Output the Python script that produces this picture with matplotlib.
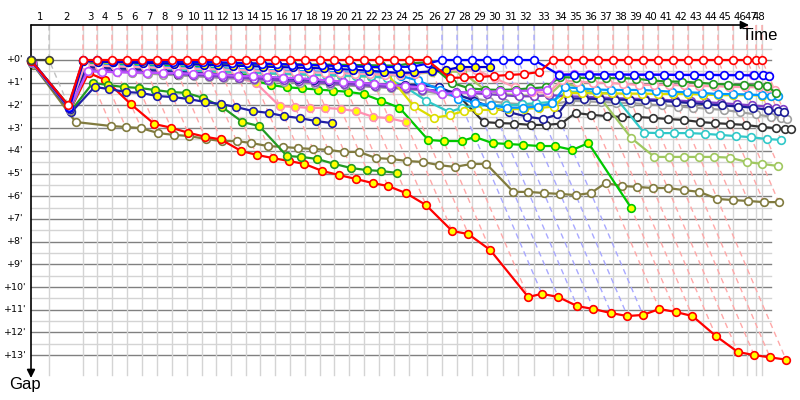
import matplotlib
matplotlib.use("Agg")
import matplotlib.pyplot as plt

# leader's elapsed time (minutes) at each lap line, index 0 = start
lap_time = [0.00, 1.86, 5.36, 6.80, 8.35, 9.90, 11.44, 12.99, 14.54, 16.08,
            17.63, 19.07, 20.62, 22.16, 23.61, 25.15, 26.70, 28.25, 29.79, 31.24,
            32.78, 34.33, 35.88, 37.42, 38.97, 40.82, 42.37, 43.92, 45.46, 47.01,
            48.66, 50.21, 51.86, 53.81, 55.36, 56.91, 58.45, 60.00, 61.55, 63.09,
            64.64, 66.19, 67.73, 69.28, 70.82, 72.37, 73.81, 74.74, 75.36]
lap_labels = [str(n) for n in range(1, 49)]
gap_labels = ["+%d'" % n for n in range(0, 14)]
blue_laps = [26, 27, 28, 29, 30, 31, 32]   # lap lines drawn in blue dashes

# gap to leader (minutes) per lap line, each car
lead_y = [0.00, 0.00]
red_w = [0.05, 2.00, 0.00, 0.00, 0.00, 0.00, 0.00, 0.00, 0.00, 0.00,
         0.00, 0.00, 0.00, 0.00, 0.00, 0.00, 0.00, 0.00, 0.00, 0.00,
         0.00, 0.00, 0.00, 0.00, 0.00, 0.00, 0.79, 0.77, 0.75, 0.70,
         0.66, 0.62, 0.53, 0.00, 0.00, 0.00, 0.00, 0.00, 0.00, 0.00,
         0.00, 0.00, 0.00, 0.00, 0.00, 0.00, 0.00, 0.00, 0.00]
blue_w = [0.00, 2.05, 0.00, 0.02, 0.03, 0.04, 0.05, 0.06, 0.07, 0.08,
          0.09, 0.10, 0.12, 0.14, 0.16, 0.18, 0.20, 0.22, 0.24, 0.26,
          0.28, 0.30, 0.32, 0.30, 0.30, 0.15, 0.00, 0.00, 0.00, 0.00,
          0.00, 0.00, 0.00, 0.66, 0.64, 0.64, 0.64, 0.64, 0.65, 0.65,
          0.65, 0.66, 0.66, 0.66, 0.67, 0.67, 0.68, 0.68, 0.70]
blue_y = [0.05, 2.10, 0.05, 0.07, 0.09, 0.11, 0.13, 0.15, 0.17, 0.19,
          0.21, 0.23, 0.25, 0.27, 0.29, 0.31, 0.33, 0.35, 0.37, 0.40,
          0.43, 0.47, 0.52, 0.57, 0.55, 0.50, 0.44, 0.31, 0.31, 0.31]
violet_w = [0.10, 2.10, 0.50, 0.52, 0.54, 0.55, 0.56, 0.57, 0.58, 0.60,
            0.62, 0.65, 0.70, 0.72, 0.75, 0.78, 0.80, 0.85, 0.90, 0.95,
            1.00, 1.05, 1.10, 1.15, 1.20, 1.50, 1.45, 1.42, 1.40, 1.38,
            1.36, 1.35, 1.30, 0.62, 0.62, 0.62, 0.64, 0.64, 0.64, 0.64,
            0.64, 0.65, 0.65, 0.65, 0.65, 0.66, 0.66, 0.68, 0.70]
green_w = [0.05, 2.00, 0.05, 0.06, 0.07, 0.08, 0.09, 0.10, 0.11, 0.12,
           0.13, 0.14, 0.15, 0.16, 0.17, 0.18, 0.19, 0.20, 0.20, 0.21,
           0.22, 0.23, 0.24, 0.25, 0.15, 0.10, 1.00, 1.25, 1.30, 1.32,
           1.30, 1.25, 1.20, 0.75, 0.78, 0.80, 0.80, 0.80, 0.82, 0.90,
           0.95, 0.95, 1.00, 1.05, 1.08, 1.10, 1.12, 1.15, 1.45]
pink_w = [0.10, 2.10, 0.20, 0.25, 0.28, 0.30, 0.32, 0.34, 0.36, 0.38,
          0.40, 0.42, 0.44, 0.46, 0.48, 0.50, 0.52, 0.54, 0.56, 0.58,
          0.60, 0.62, 0.64, 0.66, 0.60, 0.50, 0.45, 0.40, 0.45, 0.80,
          1.20, 1.40, 1.45, 0.90, 0.95, 1.00, 1.00, 1.05, 1.10, 1.10,
          1.10, 1.12, 1.15, 1.15, 1.18, 1.20, 1.20, 1.25, 1.30]
lightblue_w = [0.10, 2.10, 0.20, 0.22, 0.24, 0.26, 0.28, 0.30, 0.32, 0.34,
               0.36, 0.38, 0.40, 0.42, 0.44, 0.46, 0.48, 0.50, 0.52, 0.54,
               0.56, 0.58, 0.60, 0.70, 0.90, 1.30, 1.70, 1.90, 2.00, 2.10,
               2.10, 2.05, 1.90, 1.20, 1.25, 1.30, 1.32, 1.32, 1.32, 1.35,
               1.40, 1.42, 1.45, 1.50, 1.50, 1.52, 1.55, 1.57, 1.60]
yellow_w = [0.05, 2.00, 0.08, 0.10, 0.12, 0.13, 0.14, 0.15, 0.16, 0.17,
            0.18, 0.19, 0.20, 0.20, 0.21, 0.22, 0.23, 0.24, 0.25, 0.26,
            0.28, 0.30, 0.35, 2.03, 2.55, 2.42, 2.25, 2.20, 2.20, 2.18,
            2.15, 2.12, 2.05, 1.45, 1.45, 1.47, 1.47, 1.48, 1.48, 1.50,
            1.50, 1.50, 1.52, 1.55, 1.55, 1.55, 1.57, 1.58, 1.60]
navy_w = [0.10, 2.15, 0.30, 0.33, 0.36, 0.40, 0.44, 0.48, 0.52, 0.56,
          0.60, 0.64, 0.68, 0.72, 0.76, 0.80, 0.84, 0.88, 0.92, 0.96,
          1.00, 1.05, 1.10, 1.10, 1.10, 1.20, 1.50, 1.80, 2.10, 2.30,
          2.50, 2.60, 2.40, 1.70, 1.70, 1.72, 1.75, 1.75, 1.78, 1.80,
          1.85, 1.90, 1.95, 2.00, 2.05, 2.10, 2.20, 2.25, 2.30]
purple_w = [0.10, 2.15, 0.40, 0.43, 0.46, 0.50, 0.54, 0.58, 0.62, 0.66,
            0.70, 0.74, 0.78, 0.82, 0.86, 0.90, 0.94, 0.98, 1.02, 1.06,
            1.10, 1.15, 1.20, 1.25, 1.30, 1.35, 1.40, 1.45, 1.50, 1.55,
            1.60, 1.60, 1.55, 1.60, 1.62, 1.65, 1.68, 1.70, 1.72, 1.75,
            1.78, 1.82, 1.86, 1.90, 1.95, 2.00, 2.05, 2.10, 2.15]
gray_w = [0.15, 2.20, 0.45, 0.48, 0.52, 0.56, 0.60, 0.64, 0.68, 0.72,
          0.76, 0.80, 0.84, 0.88, 0.92, 0.96, 1.00, 1.04, 1.08, 1.12,
          1.16, 1.20, 1.24, 1.28, 1.35, 1.50, 1.60, 1.70, 1.80, 1.90,
          1.95, 2.00, 1.95, 1.80, 1.82, 1.85, 1.88, 1.90, 1.95, 2.00,
          2.05, 2.10, 2.15, 2.20, 2.30, 2.40, 2.50, 2.55, 2.60]
black_w = [0.00, 2.20, 0.40, 0.44, 0.48, 0.52, 0.56, 0.60, 0.64, 0.68,
           0.72, 0.76, 0.80, 0.84, 0.88, 0.92, 0.96, 1.00, 1.04, 1.08,
           1.12, 1.16, 1.20, 1.25, 1.30, 1.41, 1.45, 2.73, 2.78, 2.80,
           2.86, 2.86, 2.80, 2.33, 2.42, 2.47, 2.51, 2.51, 2.55, 2.60,
           2.64, 2.73, 2.78, 2.82, 2.86, 2.95, 3.00, 3.02, 3.04]
cyan_w = [0.10, 2.15, 0.30, 0.32, 0.34, 0.36, 0.38, 0.40, 0.42, 0.45,
          0.48, 0.50, 0.52, 0.55, 0.58, 0.60, 0.62, 0.64, 0.66, 0.68,
          0.70, 0.72, 0.80, 1.20, 1.80, 2.29, 2.10, 2.00, 2.00, 2.00,
          1.95, 1.90, 1.85, 1.40, 1.40, 1.45, 1.45, 3.20, 3.22, 3.22,
          3.22, 3.25, 3.30, 3.35, 3.40, 3.48, 3.52]
lightgreen_w = [0.10, 2.10, 0.30, 0.33, 0.36, 0.39, 0.42, 0.45, 0.48, 0.50,
                0.52, 0.54, 0.56, 0.58, 0.60, 0.62, 0.64, 0.66, 0.68, 0.70,
                0.72, 0.74, 0.70, 0.65, 0.60, 0.55, 0.50, 0.53, 1.30, 1.50,
                1.55, 1.60, 1.55, 1.00, 1.20, 1.54, 3.44, 4.27, 4.27, 4.27,
                4.27, 4.27, 4.30, 4.49, 4.58, 4.67]
lime_y = [0.10, 2.10, 0.15, 0.18, 0.20, 0.22, 0.24, 0.26, 0.28, 0.30,
          0.33, 0.36, 0.40, 0.90, 1.10, 1.20, 1.25, 1.30, 1.35, 1.40,
          1.50, 1.80, 2.10, 3.52, 3.57, 3.57, 3.39, 3.66, 3.70, 3.74,
          3.79, 3.79, 3.96, 3.66, 6.52]
pink_y = [0.10, 2.10, 0.35, 0.40, 0.45, 0.50, 0.55, 0.60, 0.62, 0.65,
          0.70, 0.75, 0.80, 1.00, 2.03, 2.07, 2.11, 2.11, 2.16, 2.25,
          2.51, 2.56, 2.73]
green_y = [0.15, 2.25, 1.01, 1.10, 1.19, 1.23, 1.32, 1.41, 1.45, 1.67,
           2.07, 2.73, 2.91, 4.23, 4.27, 4.36, 4.58, 4.76, 4.85, 4.89,
           4.98]
navy_y = [0.15, 2.30, 1.19, 1.28, 1.41, 1.45, 1.59, 1.63, 1.72, 1.85,
          1.94, 2.07, 2.25, 2.33, 2.47, 2.56, 2.69, 2.78]
red_y = [0.10, 2.20, 0.57, 0.88, 1.95, 2.82, 2.98, 3.20, 3.38, 3.50,
         4.00, 4.18, 4.32, 4.45, 4.58, 4.89, 5.07, 5.24, 5.42, 5.55,
         5.86, 6.39, 7.53, 7.67, 8.37, 10.44, 10.30, 10.44, 10.84, 10.97,
         11.15, 11.28, 11.23, 10.97, 11.10, 11.28, 12.16, 12.86, 13.00, 13.10,
         13.20]
olive_w = [0.20, 2.73, 2.91, 2.95, 3.00, 3.22, 3.30, 3.35, 3.48, 3.57,
           3.57, 3.66, 3.79, 3.83, 3.88, 3.92, 3.96, 4.05, 4.05, 4.32,
           4.36, 4.45, 4.49, 4.63, 4.71, 4.58, 4.58, 5.81, 5.81, 5.86,
           5.90, 5.95, 5.86, 5.42, 5.55, 5.59, 5.64, 5.64, 5.73, 5.81,
           6.12, 6.17, 6.21, 6.26, 6.26]

# (line colour, marker face, gaps) in drawing order
cars = [
    ("#817b3f", "white", olive_w),
    ("#ff0000", "#ffff00", red_y),
    ("#229a22", "#ffff00", green_y),
    ("#2020a8", "#ffff00", navy_y),
    ("#00c800", "#ffff00", lime_y),
    ("#ff90b0", "#ffff00", pink_y),
    ("#333333", "white", black_w),
    ("#a0a0a0", "white", gray_w),
    ("#a0c860", "white", lightgreen_w),
    ("#30c8c8", "white", cyan_w),
    ("#8040c8", "white", purple_w),
    ("#1c1c98", "white", navy_w),
    ("#dcdc00", "white", yellow_w),
    ("#0099ff", "white", lightblue_w),
    ("#ff9cb4", "white", pink_w),
    ("#229a22", "white", green_w),
    ("#c050ff", "white", violet_w),
    ("#0000d0", "#ffff00", blue_y),
    ("#0000ff", "white", blue_w),
    ("#ff0000", "white", red_w),
    ("#404040", "#ffff00", lead_y),
]

# pixel scales: 9.7 px per minute across, 22.7 px per minute down
fig = plt.figure(figsize=(8, 4), dpi=100)
ax = fig.add_axes([0, 0, 1, 1])
ax.set_xlim(-31 / 9.7, 769 / 9.7)
ax.set_ylim(340 / 22.7, -60 / 22.7)
ax.axis("off")

top_g = -35 / 22.7
bot_g = 315 / 22.7
right_t = 739.7 / 9.7

# horizontal grid, minute and half minute
for k in range(-1, 27):
    g = k / 2
    col = "#808080" if k % 2 == 0 else "#d4d4d4"
    ax.plot([0, right_t], [g, g], color=col, lw=1.0, zorder=1)

# lap lines
for t in lap_time[1:]:
    ax.plot([t, t], [top_g, bot_g], color="#d4d4d4", lw=1.0, zorder=1)

for i in range(1, len(lap_time)):
    gmax = max(c[2][i] for c in cars if len(c[2]) > i)
    t = lap_time[i]
    if i == 1:
        col = "#c0c0c0"
    elif i in blue_laps:
        col = "#a8a8ff"
    else:
        col = "#ffa8a8"
    ax.plot([t, t, t + gmax], [top_g, 0, gmax], color=col, lw=1.0,
            ls=(0, (4, 3)), zorder=2)

for n, (col, face, gaps) in enumerate(cars):
    xs = [lap_time[i] + g for i, g in enumerate(gaps)]
    ax.plot(xs, gaps, "-o", color=col, lw=1.6, ms=5.5, mfc=face, mec=col,
            mew=1.2, zorder=3 + n * 0.01, clip_on=False)

# axes arrows
ax.annotate("", xy=(780 - 31, top_g), xycoords=("axes pixels", "data"),
            xytext=(0, top_g), textcoords="data",
            arrowprops=dict(arrowstyle="-|>", color="black", lw=1.2,
                            mutation_scale=12, shrinkA=0, shrinkB=0))
ax.annotate("", xy=(0, 378 / 22.7 - 60 / 22.7), xytext=(0, top_g),
            arrowprops=dict(arrowstyle="-|>", color="black", lw=1.2,
                            mutation_scale=12, shrinkA=0, shrinkB=0))

# lap numbers
prev = 0.0
for t, lab in zip(lap_time[1:], lap_labels):
    ax.text((prev + t) / 2, -43 / 22.7, lab, ha="center", va="center",
            fontsize=7.3, family="DejaVu Sans")
    prev = t

for g, lab in enumerate(gap_labels):
    ax.text(-16 / 9.7, g, lab, ha="center", va="center", fontsize=6.8,
            family="DejaVu Sans")

ax.text(760 / 9.7 - 31 / 9.7, -25 / 22.7, "Time", ha="center", va="center",
        fontsize=12, family="Liberation Sans")
ax.text(-6 / 9.7, 325 / 22.7, "Gap", ha="center", va="center",
        fontsize=12, family="Liberation Sans")

fig.savefig("out.png", dpi=100)
